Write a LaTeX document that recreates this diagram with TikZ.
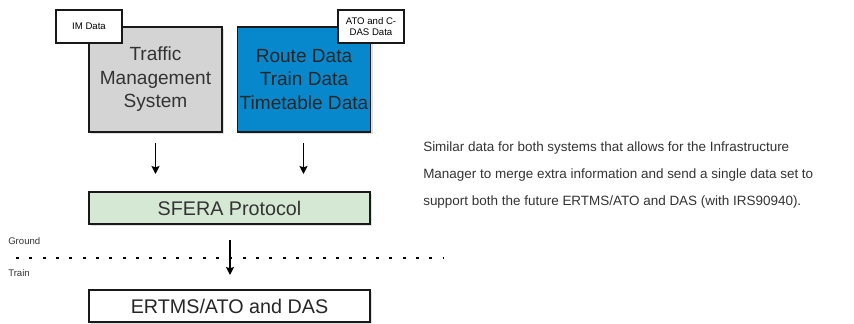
\documentclass[tikz,border=0pt]{standalone}
\usepackage{fontspec}
\setmainfont{Liberation Sans}
\usepackage{xcolor}
\definecolor{BoxGray}{HTML}{D4D4D4}
\definecolor{BoxBlue}{HTML}{0788CC}
\definecolor{SferaGreen}{HTML}{D5E8D4}
\definecolor{TextGray}{HTML}{333333}
\usepackage{tikz}
\usetikzlibrary{arrows.meta, positioning, shadows}

\begin{document}
\begin{tikzpicture}[x=0.75pt,y=-0.75pt,
  blk/.style={draw=black!90,line width=1pt,minimum width=99.75pt,minimum height=78.75pt,align=center,font=\fontsize{14.3}{17.6}\selectfont,inner sep=0pt,drop shadow={shadow xshift=1.5pt,shadow yshift=-1.5pt,opacity=0.25}},
  wide/.style={blk,minimum width=210.75pt,minimum height=24pt,font=\fontsize{14.8}{17.8}\selectfont},
  tag/.style={draw=black!90,fill=white,line width=1pt,minimum width=49.5pt,minimum height=24.75pt,align=center,font=\fontsize{7.2}{8.6}\selectfont,inner sep=1pt},
  arr/.style={-{Stealth[length=6pt,width=6pt,inset=1pt]},line width=1.1pt},
  lbl/.style={anchor=west,font=\fontsize{7.2}{8.6}\selectfont,text=TextGray,inner sep=0pt}]
  \useasboundingbox (0,0) rectangle (854,324);
  \node[blk,fill=BoxGray,text=TextGray] (tms) at (155.5,79.5) {Traffic\\Management\\System};
  \node[blk,fill=BoxBlue,text=black!85] (route) at (304,79.5) {Route Data\\Train Data\\Timetable Data};
  \node[tag] (imdata) at (89,26.5) {IM Data};
  \node[tag] (atodata) at (371,26.5) {ATO and C-\\DAS Data};
  \node[wide,fill=SferaGreen,text=TextGray] (sfera) at (229.5,208) {SFERA Protocol};
  \node[wide,fill=white,text=black!85] (ertms) at (229.5,306) {ERTMS/ATO and DAS};
  % arrows into the protocol
  \coordinate (tmsout) at (155.5,143);
  \coordinate (routeout) at (303.5,143);
  \draw[arr] (tmsout) -- ++(0,31);
  \draw[arr] (routeout) -- ++(0,31);
  \coordinate (sferaout) at (230,240);
  \draw[arr] (sferaout) -- ++(0,35);
  % ground / train split
  \coordinate (gl) at (16,258);
  \coordinate (gr) at (443,258);
  \draw[line width=2.2pt,dash pattern=on 2.2pt off 7.8pt] (gl) -- (gr);
  \node[lbl] (ground) at (8,241) {Ground};
  \node[lbl] (train) at (8,273) {Train};
  \node[anchor=north west,align=left,font=\fontsize{10.1}{20.25}\selectfont,text=TextGray,inner sep=0pt] (note) at (423,141)
    {Similar data for both systems that allows for the Infrastructure\\Manager to merge extra information and send a single data set to\\support both the future ERTMS/ATO and DAS (with IRS90940).};
\end{tikzpicture}
\end{document}
